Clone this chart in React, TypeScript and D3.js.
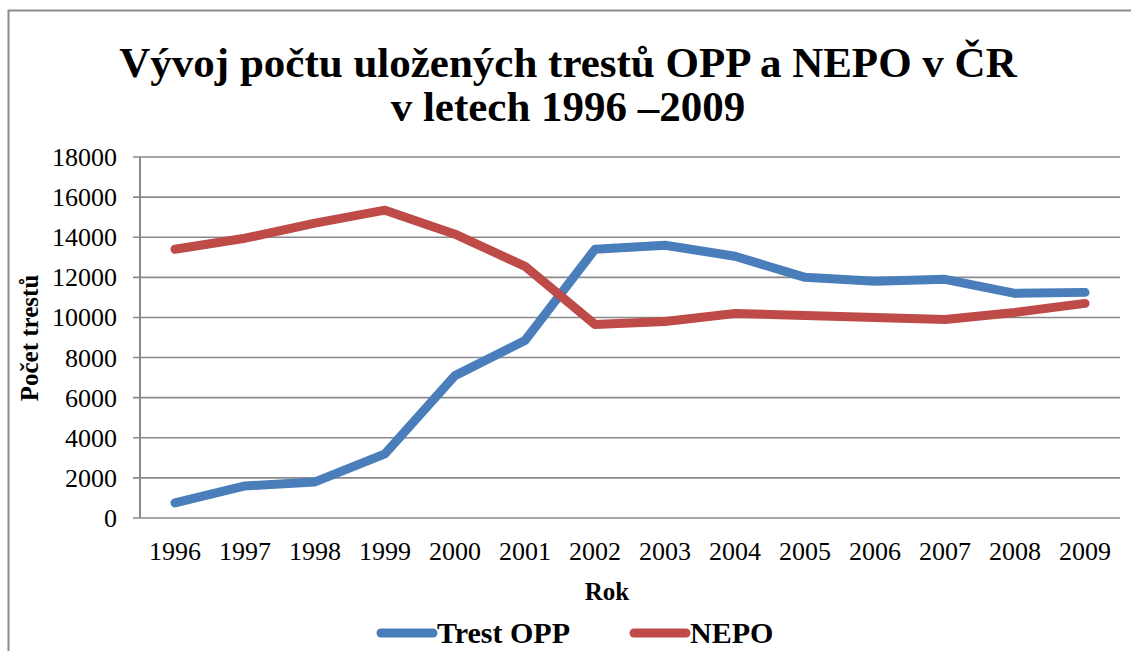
import React, { useEffect, useRef } from 'react';
import * as d3 from 'd3';

const years = ['1996', '1997', '1998', '1999', '2000', '2001', '2002', '2003', '2004', '2005', '2006', '2007', '2008', '2009'];
const trestOpp = [750, 1600, 1800, 3200, 7100, 8850, 13400, 13600, 13050, 12000, 11800, 11900, 11200, 11250];
const nepo = [13400, 13950, 14700, 15350, 14150, 12550, 9650, 9800, 10200, 10100, 10000, 9900, 10250, 10700];
const yTicks = [0, 2000, 4000, 6000, 8000, 10000, 12000, 14000, 16000, 18000];
const seriesNames = ['Trest OPP', 'NEPO'];
const seriesColors = ['#4A7EBB', '#BE4B48'];

const W = 1131;
const H = 651;

function LineChart() {
  const ref = useRef<SVGSVGElement>(null);

  useEffect(() => {
    const svg = d3.select(ref.current);
    svg.selectAll('*').remove();
    const font = 'Liberation Serif';

    const x = d3.scaleBand().domain(years).range([140, 1120]);
    const y = d3.scaleLinear().domain([0, 18000]).range([518, 157]);
    const cx = (d: string) => (x(d) as number) + x.bandwidth() / 2;

    // outer frame
    svg.append('rect')
      .attr('x', 8.5).attr('y', 10.5)
      .attr('width', 1140).attr('height', 700)
      .attr('fill', 'white')
      .attr('stroke', '#8c8c8c')
      .attr('stroke-width', 2);

    // title
    const title = svg.append('text')
      .attr('text-anchor', 'middle')
      .attr('font-family', font)
      .attr('font-weight', 'bold')
      .attr('font-size', 43)
      .attr('fill', '#000');
    title.append('tspan').attr('x', 568).attr('y', 77).text('Vývoj počtu uložených trestů OPP a NEPO v ČR');
    title.append('tspan').attr('x', 568).attr('y', 121).text('v letech 1996 –2009');

    // gridlines
    svg.append('g')
      .selectAll('line')
      .data(yTicks)
      .enter()
      .append('line')
      .attr('x1', 133).attr('x2', 1120)
      .attr('y1', d => y(d)).attr('y2', d => y(d))
      .attr('stroke', '#8a8a8a')
      .attr('stroke-width', 1.6);

    // y axis line
    svg.append('line')
      .attr('x1', 140).attr('x2', 140)
      .attr('y1', y(18000)).attr('y2', y(0))
      .attr('stroke', '#8a8a8a')
      .attr('stroke-width', 2);

    // y tick labels
    svg.append('g')
      .selectAll('text')
      .data(yTicks)
      .enter()
      .append('text')
      .attr('x', 117)
      .attr('y', d => y(d) + 9)
      .attr('text-anchor', 'end')
      .attr('font-family', font)
      .attr('font-size', 26)
      .text(d => String(d));

    // x tick labels
    svg.append('g')
      .selectAll('text')
      .data(years)
      .enter()
      .append('text')
      .attr('x', d => cx(d))
      .attr('y', 560)
      .attr('text-anchor', 'middle')
      .attr('font-family', font)
      .attr('font-size', 26)
      .text(d => d);

    // axis titles
    svg.append('text')
      .attr('x', 607).attr('y', 600)
      .attr('text-anchor', 'middle')
      .attr('font-family', font)
      .attr('font-weight', 'bold')
      .attr('font-size', 25)
      .text('Rok');

    svg.append('text')
      .attr('transform', 'translate(38,338) rotate(-90)')
      .attr('text-anchor', 'middle')
      .attr('font-family', font)
      .attr('font-weight', 'bold')
      .attr('font-size', 25)
      .text('Počet trestů');

    // lines
    const line = d3.line<number>()
      .x((_, i) => cx(years[i]))
      .y(d => y(d));

    [trestOpp, nepo].forEach((vals, i) => {
      svg.append('path')
        .datum(vals)
        .attr('d', line)
        .attr('fill', 'none')
        .attr('stroke', seriesColors[i])
        .attr('stroke-width', 9)
        .attr('stroke-linejoin', 'round')
        .attr('stroke-linecap', 'round');
    });

    // legend
    const legendX = [381, 634];
    seriesNames.forEach((name, i) => {
      const g = svg.append('g').attr('transform', 'translate(' + legendX[i] + ',633)');
      g.append('line')
        .attr('x1', 0).attr('x2', 52)
        .attr('y1', 0).attr('y2', 0)
        .attr('stroke', seriesColors[i])
        .attr('stroke-width', 9)
        .attr('stroke-linecap', 'round');
      g.append('text')
        .attr('x', 56).attr('y', 10)
        .attr('font-family', font)
        .attr('font-weight', 'bold')
        .attr('font-size', 30)
        .text(name);
    });
  }, []);

  return (
    <svg
      ref={ref}
      width={W}
      height={H}
      style={{ position: 'absolute', left: 0, top: 0, background: 'white' }}
    />
  );
}

export default function App() {
  return <LineChart />;
}
